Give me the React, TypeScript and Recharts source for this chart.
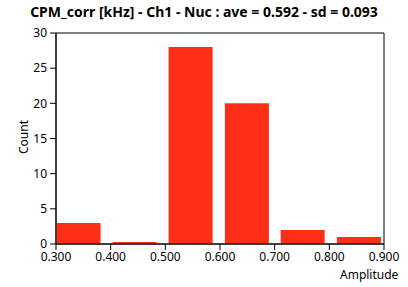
import React from "react";
import { BarChart, Bar, XAxis, YAxis, ReferenceArea } from "recharts";

const binCenters = [0.341, 0.444, 0.546, 0.649, 0.751, 0.854];
const counts = [3, 0, 28, 20, 2, 1];
const xTicks = [0.3, 0.4, 0.5, 0.6, 0.7, 0.8, 0.9];
const yTicks = [0, 5, 10, 15, 20, 25, 30];
const title = "CPM_corr [kHz] - Ch1 - Nuc : ave = 0.592 - sd = 0.093";

const data = binCenters.map((x, i) => ({ x, count: counts[i] }));

const FONT = "'Noto Sans', sans-serif";

export default function App() {
  return (
    <div style={{ position: "absolute", left: 0, top: 0, width: 408, height: 287, background: "#fff", fontFamily: FONT }}>
      <div style={{ position: "absolute", left: 0, top: 2, width: 408, textAlign: "center", fontWeight: "bold", fontSize: 14, color: "#000" }}>
        {title}
      </div>
      <div style={{ position: "absolute", left: 23, top: 137, transform: "translate(-50%,-50%) rotate(-90deg)", fontSize: 12, color: "#000" }}>
        Count
      </div>
      <div style={{ position: "absolute", left: 340, top: 266, fontSize: 12, color: "#000" }}>
        Amplitude
      </div>
      <BarChart width={408} height={287} data={data} margin={{ top: 33, right: 24, left: 0, bottom: 0 }}>
        <XAxis
          dataKey="x"
          type="number"
          domain={[0.3, 0.9]}
          ticks={xTicks}
          tickFormatter={(v: number) => v.toFixed(3)}
          allowDataOverflow
          height={43}
          tickSize={6}
          tickMargin={2}
          stroke="#000"
          tick={{ fill: "#000", fontSize: 12, fontFamily: FONT }}
        />
        <YAxis
          type="number"
          domain={[0, 30]}
          ticks={yTicks}
          width={56}
          tickSize={6}
          tickMargin={3}
          stroke="#000"
          tick={{ fill: "#000", fontSize: 12, fontFamily: FONT }}
        />
        <ReferenceArea x1={0.3} x2={0.9} y1={0} y2={30} fill="none" stroke="#000" strokeWidth={1} ifOverflow="visible" />
        <Bar
          dataKey="count"
          fill="#FF2E17"
          barSize={44}
          minPointSize={(value: number) => (value === 0 ? 2 : 0)}
          isAnimationActive={false}
        />
      </BarChart>
    </div>
  );
}
